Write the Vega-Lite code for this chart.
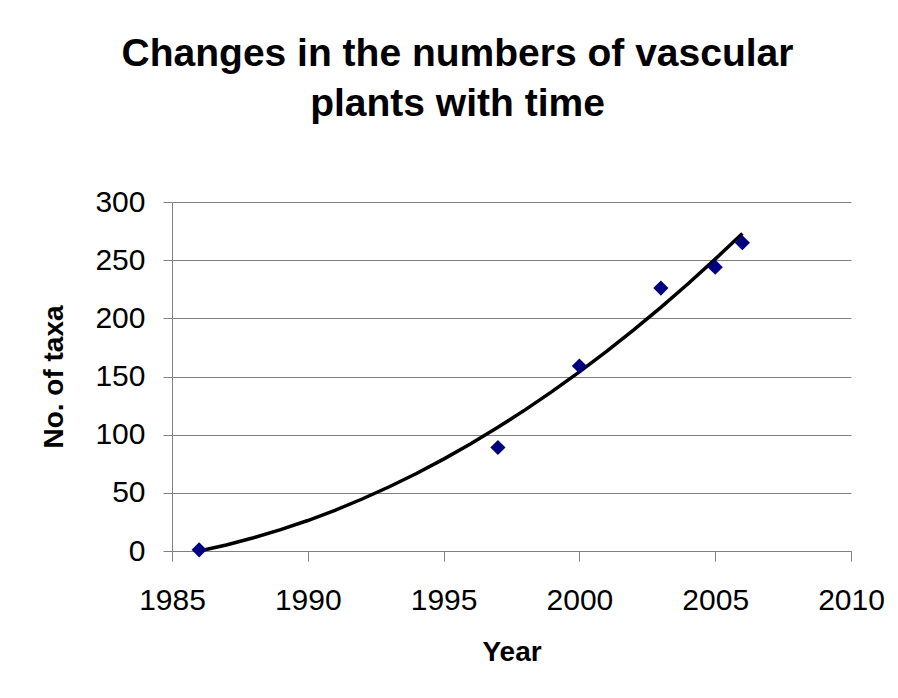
{
  "$schema": "https://vega.github.io/schema/vega-lite/v6.json",
  "width": 679,
  "height": 349,
  "autosize": {"type": "none"},
  "padding": {"left": 172, "top": 202, "right": 47, "bottom": 147},
  "background": "white",
  "config": {
    "view": {"stroke": null},
    "font": "Liberation Sans"
  },
  "title": {
    "text": ["Changes in the numbers of vascular", "plants with time"],
    "fontSize": 39,
    "fontWeight": "bold",
    "font": "Liberation Sans",
    "color": "black",
    "anchor": "middle",
    "frame": "group",
    "dx": -54,
    "lineHeight": 50,
    "baseline": "alphabetic",
    "offset": 32
  },
  "datasets": {
    "obs": [
      {"year": 1986, "taxa": 1},
      {"year": 1997, "taxa": 89},
      {"year": 2000, "taxa": 159},
      {"year": 2003, "taxa": 226},
      {"year": 2005, "taxa": 244},
      {"year": 2006, "taxa": 265}
    ],
    "trend": [
      {"year": 1986, "taxa": 0},
      {"year": 1987, "taxa": 5.2},
      {"year": 1988, "taxa": 11.4},
      {"year": 1989, "taxa": 18.4},
      {"year": 1990, "taxa": 26.2},
      {"year": 1991, "taxa": 35},
      {"year": 1992, "taxa": 44.7},
      {"year": 1993, "taxa": 55.2},
      {"year": 1994, "taxa": 66.6},
      {"year": 1995, "taxa": 79},
      {"year": 1996, "taxa": 92.2},
      {"year": 1997, "taxa": 106.3},
      {"year": 1998, "taxa": 121.3},
      {"year": 1999, "taxa": 137.2},
      {"year": 2000, "taxa": 154},
      {"year": 2001, "taxa": 171.5},
      {"year": 2002, "taxa": 190},
      {"year": 2003, "taxa": 209.4},
      {"year": 2004, "taxa": 229.7},
      {"year": 2005, "taxa": 250.9},
      {"year": 2006, "taxa": 273}
    ]
  },
  "encoding": {
    "x": {
      "field": "year",
      "type": "quantitative",
      "scale": {"domain": [1985, 2010], "nice": false, "zero": false},
      "axis": {
        "title": "Year",
        "values": [1985, 1990, 1995, 2000, 2005, 2010],
        "format": "d",
        "grid": false,
        "domainColor": "#808080",
        "tickColor": "#808080",
        "tickSize": 10,
        "labelFontSize": 30,
        "labelColor": "black",
        "labelPadding": 24,
        "labelFlush": false,
        "labelOverlap": false,
        "titleFontSize": 28,
        "titleFontWeight": "bold",
        "titleColor": "black",
        "titlePadding": 23
      }
    },
    "y": {
      "field": "taxa",
      "type": "quantitative",
      "scale": {"domain": [0, 300], "nice": false},
      "axis": {
        "title": "No. of taxa",
        "values": [0, 50, 100, 150, 200, 250, 300],
        "grid": true,
        "gridColor": "#808080",
        "gridOpacity": 1,
        "domainColor": "#808080",
        "tickColor": "#808080",
        "tickSize": 9,
        "labelFontSize": 30,
        "labelColor": "black",
        "labelPadding": 18,
        "labelFlush": false,
        "labelOverlap": false,
        "titleFontSize": 28,
        "titleFontWeight": "bold",
        "titleColor": "black",
        "titlePadding": 26
      }
    }
  },
  "layer": [
    {
      "data": {"name": "trend"},
      "mark": {"type": "line", "color": "black", "strokeWidth": 3.5}
    },
    {
      "data": {"name": "obs"},
      "mark": {"type": "point", "shape": "diamond", "filled": true, "color": "#000080", "size": 230, "opacity": 1}
    }
  ]
}
